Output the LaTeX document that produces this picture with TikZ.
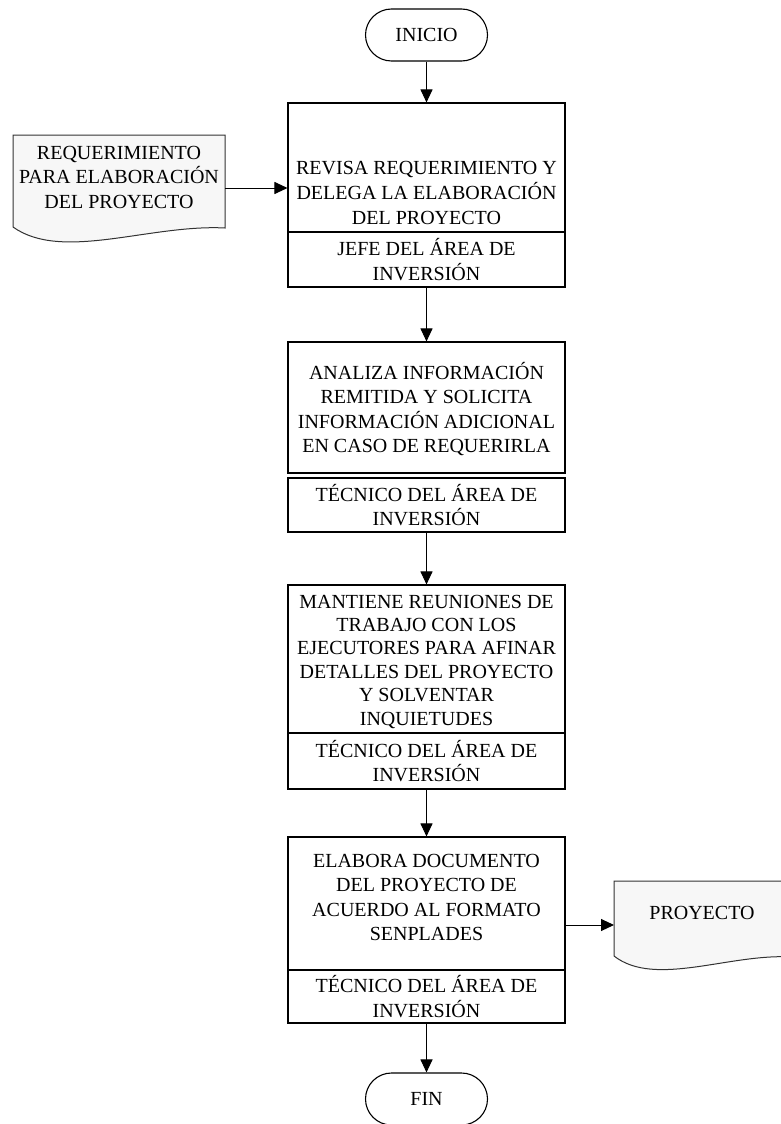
\documentclass[tikz,border=0pt]{standalone}
\usepackage{fontspec}
\setmainfont{Liberation Serif}
\usetikzlibrary{arrows.meta}
\begin{document}
\begin{tikzpicture}[x=1pt,y=-1pt,
  fs/.style={font=\fontsize{20}{24.5}\selectfont},
  box/.style={draw, line width=1.1pt, minimum width=277pt, inner sep=0pt, align=center, fs},
  txt/.style={align=center, inner sep=0pt, fs},
  term/.style={draw, line width=1.1pt, rounded corners=26pt, minimum width=122pt, minimum height=52pt, inner sep=0pt, fs},
  arr/.style={-{Triangle[width=12pt,length=13pt]}, line width=1pt},
  docshape/.style={draw=black!80, fill=black!3, line width=1pt}
]
\fill[white] (0,0) rectangle (780,1124);
\useasboundingbox (0,0) rectangle (780,1124);

% terminals
\node[term] (inicio) at (426.5,35) {INICIO};
\node[term] (fin) at (426.5,1099) {FIN};

% step 1
\node[box, minimum height=129pt] (b1) at (426.5,167.5) {};
\node[txt, font=\fontsize{20}{25.3}\selectfont] (t1) at (426.5,193) {REVISA REQUERIMIENTO Y\\DELEGA LA ELABORACIÓN\\DEL PROYECTO};
\node[box, minimum height=55pt] (r1) at (426.5,259.5) {JEFE DEL ÁREA DE\\INVERSIÓN};

% step 2
\node[box, minimum height=131pt] (b2) at (426.5,407.5) {};
\node[txt] (t2) at (426.5,409) {ANALIZA INFORMACIÓN\\REMITIDA Y SOLICITA\\INFORMACIÓN ADICIONAL\\EN CASO DE REQUERIRLA};
\node[box, minimum height=54pt] (r2) at (426.5,505) {TÉCNICO DEL ÁREA DE\\INVERSIÓN};

% step 3
\node[box, minimum height=148pt] (b3) at (426.5,659) {};
\node[txt, font=\fontsize{20}{23.4}\selectfont] (t3) at (426.5,661.5) {MANTIENE REUNIONES DE\\TRABAJO CON LOS\\EJECUTORES PARA AFINAR\\DETALLES DEL PROYECTO\\Y SOLVENTAR\\INQUIETUDES};
\node[box, minimum height=56pt] (r3) at (426.5,761) {TÉCNICO DEL ÁREA DE\\INVERSIÓN};

% step 4
\node[box, minimum height=133pt] (b4) at (426.5,903.5) {};
\node[txt] (t4) at (426.5,897.5) {ELABORA DOCUMENTO\\DEL PROYECTO DE\\ACUERDO AL FORMATO\\SENPLADES};
\node[box, minimum height=53pt] (r4) at (426.5,996.5) {TÉCNICO DEL ÁREA DE\\INVERSIÓN};

% documents
\draw[docshape] (13,135) -- (225,135) -- (225,228)
  .. controls (150,224) and (62,262) .. (13,227) -- cycle;
\node[txt] (req) at (119,177) {REQUERIMIENTO\\PARA ELABORACIÓN\\DEL PROYECTO};
\coordinate (reqout) at (225,188);

\draw[docshape] (614,881) -- (792,881) -- (792,957)
  .. controls (730,953) and (655,988) .. (614,956) -- cycle;
\node[txt] (proy) at (702,913) {PROYECTO};
\coordinate (proyin) at (614,925);

% connectors
\draw[arr] (inicio) -- (b1);
\draw[arr] (r1) -- (b2);
\draw[arr] (r2) -- (b3);
\draw[arr] (r3) -- (b4);
\draw[arr] (r4) -- (fin);
\draw[arr] (reqout) -- (b1.west |- reqout);
\draw[arr] (b4.east |- proyin) -- (proyin);
\end{tikzpicture}
\end{document}
